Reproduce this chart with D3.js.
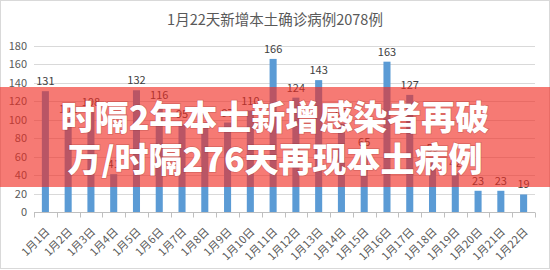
<!DOCTYPE html>
<html>
<head>
<meta charset="utf-8">
<script src="https://cdn.jsdelivr.net/npm/d3@7"></script>
<style>
  html, body { margin: 0; padding: 0; background: #fff; }
  svg { display: block; }
</style>
</head>
<body>
<svg id="chart" width="550" height="270"></svg>
<script>
const chartTitle = "1月22天新增本土确诊病例2078例";
const categories = ["1月1日","1月2日","1月3日","1月4日","1月5日","1月6日","1月7日","1月8日","1月9日","1月10日","1月11日","1月12日","1月13日","1月14日","1月15日","1月16日","1月17日","1月18日","1月19日","1月20日","1月21日","1月22日"];
const cases = [131, 101, 108, 41, 132, 116, 95, 97, 97, 110, 166, 124, 143, 96, 65, 163, 127, 59, 42, 23, 23, 19];
const yTicks = [0, 20, 40, 60, 80, 100, 120, 140, 160, 180];
const overlayLines = ["时隔2年本土新增感染者再破", "万/时隔276天再现本土病例"];

const font = "'Noto Sans CJK SC', 'Noto Sans', sans-serif";
const svg = d3.select("#chart");

svg.append("rect").attr("x", 0).attr("y", 0).attr("width", 550).attr("height", 270).attr("fill", "#fff");
svg.append("rect").attr("x", 0.5).attr("y", 0.5).attr("width", 549).attr("height", 268)
  .attr("fill", "none").attr("stroke", "#d9d9d9");

const x = d3.scaleBand().domain(categories).range([34, 535]).paddingInner(0.69).paddingOuter(0.345);
const y = d3.scaleLinear().domain([0, 180]).range([212, 46]);

// title
svg.append("text").attr("x", 275).attr("y", 25).attr("text-anchor", "middle")
  .attr("font-family", font).attr("font-size", 14.5).attr("fill", "#595959").text(chartTitle);

// gridlines
svg.append("g").selectAll("line").data(yTicks.filter(d => d > 0)).join("line")
  .attr("x1", 34).attr("x2", 535)
  .attr("y1", d => Math.round(y(d)) + 0.5).attr("y2", d => Math.round(y(d)) + 0.5)
  .attr("stroke", "#d9d9d9").attr("stroke-width", 1);

// y axis labels
const yAxis = d3.axisLeft(y).tickValues(yTicks).tickSize(0).tickPadding(0);
const gy = svg.append("g").attr("transform", "translate(27,0)").call(yAxis);
gy.select(".domain").remove();
gy.selectAll("text").attr("font-family", font).attr("font-size", 11).attr("fill", "#595959");

// bars
svg.append("g").selectAll("rect").data(cases).join("rect")
  .attr("x", (d, i) => x(categories[i]))
  .attr("width", x.bandwidth())
  .attr("y", d => y(d))
  .attr("height", d => y(0) - y(d))
  .attr("fill", "#5b9bd5");

// data labels
svg.append("g").selectAll("text").data(cases).join("text")
  .attr("x", (d, i) => x(categories[i]) + x.bandwidth() / 2)
  .attr("y", d => y(d) - 6)
  .attr("text-anchor", "middle")
  .attr("font-family", font).attr("font-size", 11).attr("fill", "#404040")
  .text(d => d);

// x axis
const xAxis = d3.axisBottom(x).tickSize(0).tickPadding(0);
const gx = svg.append("g").attr("transform", `translate(0,${Math.round(y(0)) + 0.5})`).call(xAxis);
gx.select(".domain").attr("stroke", "#bfbfbf").attr("d", "M34,0H535");
gx.selectAll(".tick text")
  .attr("font-family", font).attr("font-size", 11).attr("fill", "#595959")
  .attr("text-anchor", "end")
  .attr("dy", null)
  .attr("transform", "translate(5,20) rotate(-45)");
// boundary tick marks
const step = x.step();
const bounds = d3.range(categories.length + 1).map(i => 34 + i * step);
gx.append("g").selectAll("line").data(bounds).join("line")
  .attr("x1", d => Math.round(d) + 0.5).attr("x2", d => Math.round(d) + 0.5)
  .attr("y1", 0).attr("y2", 5).attr("stroke", "#bfbfbf");

// overlay banner
svg.append("rect").attr("x", 0).attr("y", 87).attr("width", 550).attr("height", 100)
  .attr("fill", "rgb(240,45,35)").attr("fill-opacity", 0.63);
svg.append("g").selectAll("text").data(overlayLines).join("text")
  .attr("x", 275).attr("y", (d, i) => 130 + i * 42)
  .attr("text-anchor", "middle")
  .attr("font-family", font).attr("font-weight", 900).attr("font-size", 34)
  .attr("fill", "#fff")
  .style("paint-order", "stroke").attr("stroke", "rgba(120,30,30,0.25)").attr("stroke-width", 1.5)
  .text(d => d);
</script>
</body>
</html>
